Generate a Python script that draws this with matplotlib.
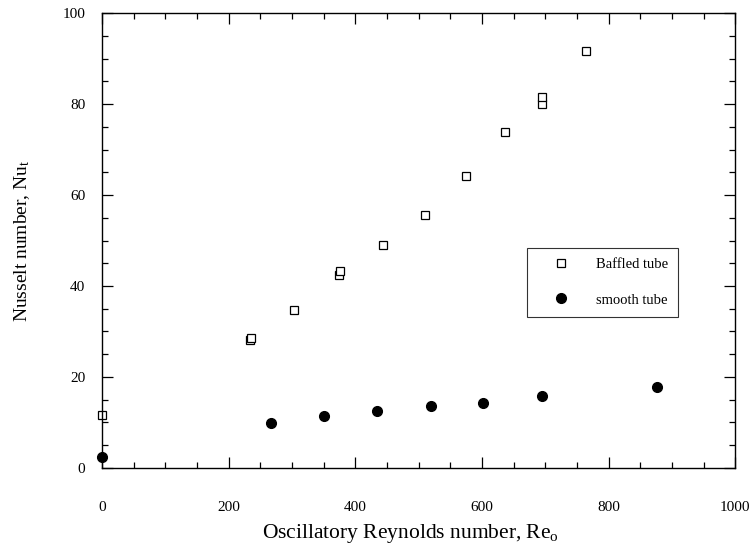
import matplotlib
matplotlib.use("Agg")
import matplotlib.pyplot as plt
from matplotlib.ticker import MultipleLocator

plt.rcParams["font.family"] = ["Liberation Serif", "DejaVu Serif"]
plt.rcParams["mathtext.fontset"] = "custom"
plt.rcParams["mathtext.rm"] = "Liberation Serif"
plt.rcParams["mathtext.it"] = "Liberation Serif:italic"

# Heat transfer data: oscillatory Reynolds number vs tube-side Nusselt number
baffled_re = [0, 234, 236, 303, 374, 376, 443, 510, 575, 637, 695, 695, 764]
baffled_nu = [11.7, 28.1, 28.5, 34.7, 42.4, 43.4, 49.0, 55.6, 64.2, 73.8, 80.0, 81.5, 91.6]

smooth_re = [0, 267, 351, 434, 519, 602, 695, 877]
smooth_nu = [2.3, 9.9, 11.4, 12.5, 13.6, 14.2, 15.8, 17.9]

fig = plt.figure(figsize=(7.53, 5.46), dpi=100)
ax = fig.add_axes([0.1355, 0.143, 0.841, 0.833])

ax.plot(baffled_re, baffled_nu, linestyle="none", marker="s", markersize=5.5,
        markerfacecolor="white", markeredgecolor="black", markeredgewidth=0.9,
        label="Baffled tube", clip_on=False)
ax.plot(smooth_re, smooth_nu, linestyle="none", marker="o", markersize=7,
        color="black", label="smooth tube", clip_on=False)

ax.set_xlim(0, 1000)
ax.set_ylim(0, 100)
ax.xaxis.set_major_locator(MultipleLocator(200))
ax.xaxis.set_minor_locator(MultipleLocator(50))
ax.yaxis.set_major_locator(MultipleLocator(20))
ax.yaxis.set_minor_locator(MultipleLocator(5))

ax.tick_params(which="both", direction="in", top=True, right=True,
               width=0.9, labelsize=11)
ax.tick_params(which="major", length=8)
ax.tick_params(which="minor", length=4.5)
ax.tick_params(axis="x", which="major", pad=24)
ax.tick_params(axis="y", which="major", pad=12)

for spine in ax.spines.values():
    spine.set_linewidth(1.0)

ax.set_xlabel(r"Oscillatory Reynolds number, Re$_{\mathrm{o}}$", fontsize=15.5)
ax.xaxis.set_label_coords(0.487, -0.145)
ax.xaxis.label.set_verticalalignment("center")
ax.set_ylabel(r"Nusselt number, Nu$_{\mathrm{t}}$", fontsize=14)
ax.yaxis.set_label_coords(-0.127, 0.5)
ax.yaxis.label.set_verticalalignment("center")

leg = ax.legend(loc="upper left", bbox_to_anchor=(0.671, 0.4835), fontsize=10.5,
                frameon=True, fancybox=False, shadow=False, edgecolor="black",
                borderpad=0.7, labelspacing=1.5, handletextpad=0.77,
                handlelength=3.26, borderaxespad=0)
leg.get_frame().set_linewidth(0.8)

fig.savefig("out.png", dpi=100)
plt.close(fig)
